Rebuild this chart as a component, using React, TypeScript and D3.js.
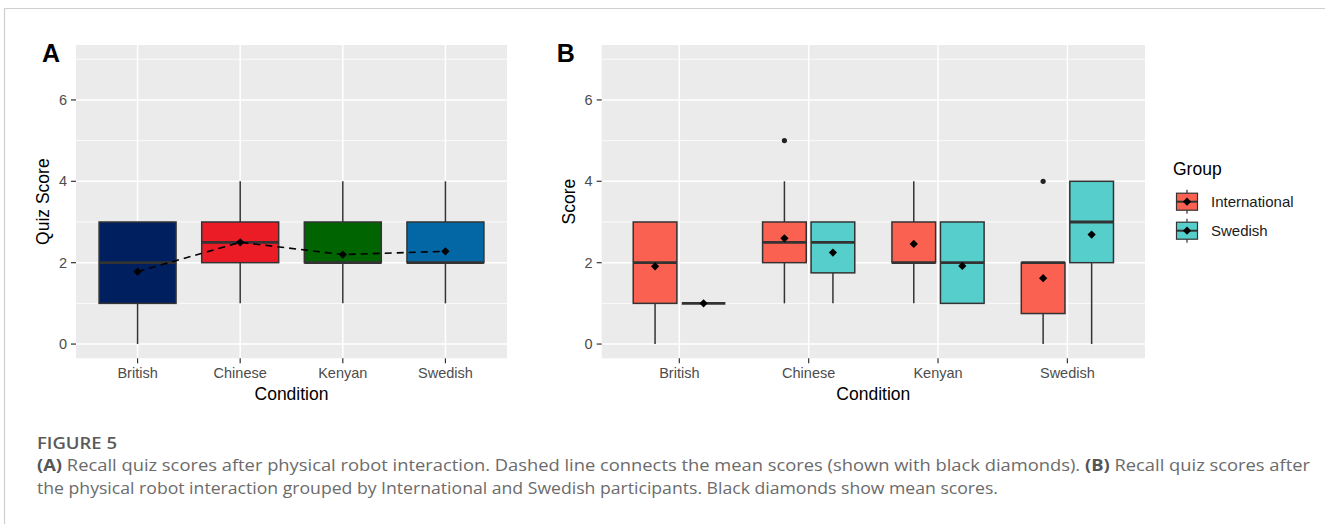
import React from 'react';
import * as d3 from 'd3';

// categories
const conditions = ['British', 'Chinese', 'Kenyan', 'Swedish'];
const groups = ['International', 'Swedish'];
const yTicks = [0, 2, 4, 6];
const yMinor = [1, 3, 5, 7];

// panel A box stats (per condition)
const aLower = [0, 1, 1, 1];
const aQ1 = [1, 2, 2, 2];
const aMedian = [2, 2.5, 2, 2];
const aQ3 = [3, 3, 3, 3];
const aUpper = [3, 4, 4, 4];
const aMean = [1.78, 2.5, 2.2, 2.28];
const aColors = ['#001f5e', '#ec1c27', '#006400', '#0367a6'];

// panel B box stats, International
const intLower = [0, 1, 1, 0];
const intQ1 = [1, 2, 2, 0.75];
const intMedian = [2, 2.5, 2, 2];
const intQ3 = [3, 3, 3, 2];
const intUpper = [1, 4, 4, 2];
const intMean = [1.91, 2.6, 2.46, 1.62];
const intOutliers = [[], [5], [], [4]];

// panel B box stats, Swedish
const sweLower = [1, 1, 1, 0];
const sweQ1 = [1, 1.75, 1, 2];
const sweMedian = [1, 2.5, 2, 3];
const sweQ3 = [1, 3, 3, 4];
const sweUpper = [1, 3, 3, 4];
const sweMean = [1, 2.25, 1.92, 2.69];
const sweOutliers = [[], [], [], []];

const groupColors = ['#fa6150', '#56cfcc'];

const FONT = '"Liberation Sans", Arial, sans-serif';
const CAP_FONT = '"Open Sans", "Noto Sans", sans-serif';
const OUTLINE = '#333333';

const y = d3.scaleLinear().domain([-0.35, 7.35]).range([358.3, 45]);
const diamond = d3.symbol(d3.symbolSquare, 34)();

function Box({ cx, w, lo, q1, med, q3, hi, mean, fill, outliers = [] }) {
  return (
    <g>
      <line x1={cx} x2={cx} y1={y(hi)} y2={y(q3)} stroke={OUTLINE} strokeWidth={1.5} />
      <line x1={cx} x2={cx} y1={y(q1)} y2={y(lo)} stroke={OUTLINE} strokeWidth={1.5} />
      <rect x={cx - w / 2} width={w} y={y(q3)} height={y(q1) - y(q3)} fill={fill} stroke={OUTLINE} strokeWidth={1.5} />
      <line x1={cx - w / 2} x2={cx + w / 2} y1={y(med)} y2={y(med)} stroke={OUTLINE} strokeWidth={2.8} />
      {outliers.map((o, i) => (
        <circle key={i} cx={cx} cy={y(o)} r={2.6} fill="#222" />
      ))}
      {mean != null && <path d={diamond} transform={`translate(${cx},${y(mean)}) rotate(45)`} fill="#000" />}
    </g>
  );
}

function PanelFrame({ x, left, right, title, letter, letterX, titleX, tickEnd }) {
  return (
    <g fontFamily={FONT}>
      <rect x={left} y={45} width={right - left} height={y(-0.35) - 45} fill="#ebebeb" />
      {yMinor.map(t => (
        <line key={'m' + t} x1={left} x2={right} y1={y(t)} y2={y(t)} stroke="#fff" strokeWidth={0.8} />
      ))}
      {yTicks.map(t => (
        <line key={'M' + t} x1={left} x2={right} y1={y(t)} y2={y(t)} stroke="#fff" strokeWidth={1.5} />
      ))}
      {conditions.map(c => (
        <line key={c} x1={x(c)} x2={x(c)} y1={45} y2={y(-0.35)} stroke="#fff" strokeWidth={1.5} />
      ))}
      {yTicks.map(t => (
        <g key={'t' + t}>
          <line x1={left - 5} x2={left} y1={y(t)} y2={y(t)} stroke="#333" strokeWidth={1.2} />
          <text x={tickEnd} y={y(t)} dy="0.35em" textAnchor="end" fontSize={14.5} fill="#4d4d4d">{t}</text>
        </g>
      ))}
      {conditions.map(c => (
        <g key={'x' + c}>
          <line x1={x(c)} x2={x(c)} y1={y(-0.35)} y2={y(-0.35) + 5} stroke="#333" strokeWidth={1.2} />
          <text x={x(c)} y={378} textAnchor="middle" fontSize={14.5} fill="#4d4d4d">{c}</text>
        </g>
      ))}
      <text x={(left + right) / 2} y={400} textAnchor="middle" fontSize={17.5} fill="#000">Condition</text>
      <text transform={`translate(${titleX},${(45 + y(-0.35)) / 2}) rotate(-90)`} dy="0.35em" textAnchor="middle" fontSize={17.5} fill="#000">{title}</text>
      <text x={letterX} y={61.7} fontSize={25} fontWeight="bold" fill="#000">{letter}</text>
    </g>
  );
}

export default function App() {
  const xA = d3.scalePoint().domain(conditions).range([76, 507]).padding(0.6);
  const xB = d3.scalePoint().domain(conditions).range([601.7, 1145]).padding(0.6);
  const wA = xA.step() * 0.75;
  const dodge = d3.scaleBand().domain(groups).range([-0.375 * xB.step(), 0.375 * xB.step()]).paddingInner(0.1).paddingOuter(0.05);

  const meanLine = d3.line<number>().x((_, i) => xA(conditions[i])).y(d => y(d));

  const bStats = [
    { lo: intLower, q1: intQ1, med: intMedian, q3: intQ3, hi: intUpper, mean: intMean, out: intOutliers },
    { lo: sweLower, q1: sweQ1, med: sweMedian, q3: sweQ3, hi: sweUpper, mean: sweMean, out: sweOutliers },
  ];

  const legendY = d3.scalePoint().domain(groups).range([201.7, 230.7]);

  return (
    <svg width={1326} height={524} style={{ position: 'absolute', left: 0, top: 0, background: '#fff' }}>
      <line x1={4} x2={1325} y1={8.5} y2={8.5} stroke="#cfcfcf" strokeWidth={1.2} />
      <line x1={4.5} x2={4.5} y1={8} y2={524} stroke="#cfcfcf" strokeWidth={1.2} />

      {/* Panel A */}
      <PanelFrame x={xA} left={76} right={507} title="Quiz Score" letter="A" letterX={42} titleX={43} tickEnd={67} />
      {conditions.map((c, i) => (
        <Box key={c} cx={xA(c)} w={wA} lo={aLower[i]} q1={aQ1[i]} med={aMedian[i]} q3={aQ3[i]} hi={aUpper[i]} fill={aColors[i]} />
      ))}
      <path d={meanLine(aMean)} fill="none" stroke="#000" strokeWidth={1.6} strokeDasharray="7,5" />
      {aMean.map((m, i) => (
        <path key={i} d={diamond} transform={`translate(${xA(conditions[i])},${y(m)}) rotate(45)`} fill="#000" />
      ))}

      {/* Panel B */}
      <PanelFrame x={xB} left={601.7} right={1145} title="Score" letter="B" letterX={556.7} titleX={568.7} tickEnd={592.5} />
      {conditions.map((c, i) =>
        groups.map((g, gi) => {
          const s = bStats[gi];
          return (
            <Box
              key={c + g}
              cx={xB(c) + dodge(g) + dodge.bandwidth() / 2}
              w={dodge.bandwidth()}
              lo={s.lo[i]} q1={s.q1[i]} med={s.med[i]} q3={s.q3[i]} hi={s.hi[i]}
              mean={s.mean[i]} outliers={s.out[i]} fill={groupColors[gi]}
            />
          );
        })
      )}

      {/* Legend */}
      <g fontFamily={FONT}>
        <text x={1173} y={175} fontSize={17.5} fill="#000">Group</text>
        {groups.map((g, gi) => {
          const cy = legendY(g);
          return (
            <g key={g}>
              <line x1={1187} x2={1187} y1={cy - 12} y2={cy + 12} stroke={OUTLINE} strokeWidth={1.2} />
              <rect x={1176.5} y={cy - 8.5} width={21} height={17} fill={groupColors[gi]} stroke={OUTLINE} strokeWidth={1.2} />
              <line x1={1176.5} x2={1197.5} y1={cy} y2={cy} stroke={OUTLINE} strokeWidth={2} />
              <path d={diamond} transform={`translate(1187,${cy}) rotate(45)`} fill="#000" />
              <text x={1211} y={cy} dy="0.35em" fontSize={15} fill="#1a1a1a">{g}</text>
            </g>
          );
        })}
      </g>

      {/* Caption */}
      <g fontFamily={CAP_FONT} fill="#6b6b6b">
        <text x={37} y={449} fontSize={16.5} fontWeight={600} fill="#5a5a5a" textLength={80} lengthAdjust="spacingAndGlyphs">FIGURE 5</text>
        <text x={37} y={471} fontSize={16} textLength={1273} lengthAdjust="spacingAndGlyphs">
          <tspan fontWeight="bold" fill="#555">(A)</tspan> Recall quiz scores after physical robot interaction. Dashed line connects the mean scores (shown with black diamonds). <tspan fontWeight="bold" fill="#555">(B)</tspan> Recall quiz scores after
        </text>
        <text x={37} y={494} fontSize={16} textLength={961} lengthAdjust="spacingAndGlyphs">
          the physical robot interaction grouped by International and Swedish participants. Black diamonds show mean scores.
        </text>
      </g>
    </svg>
  );
}
